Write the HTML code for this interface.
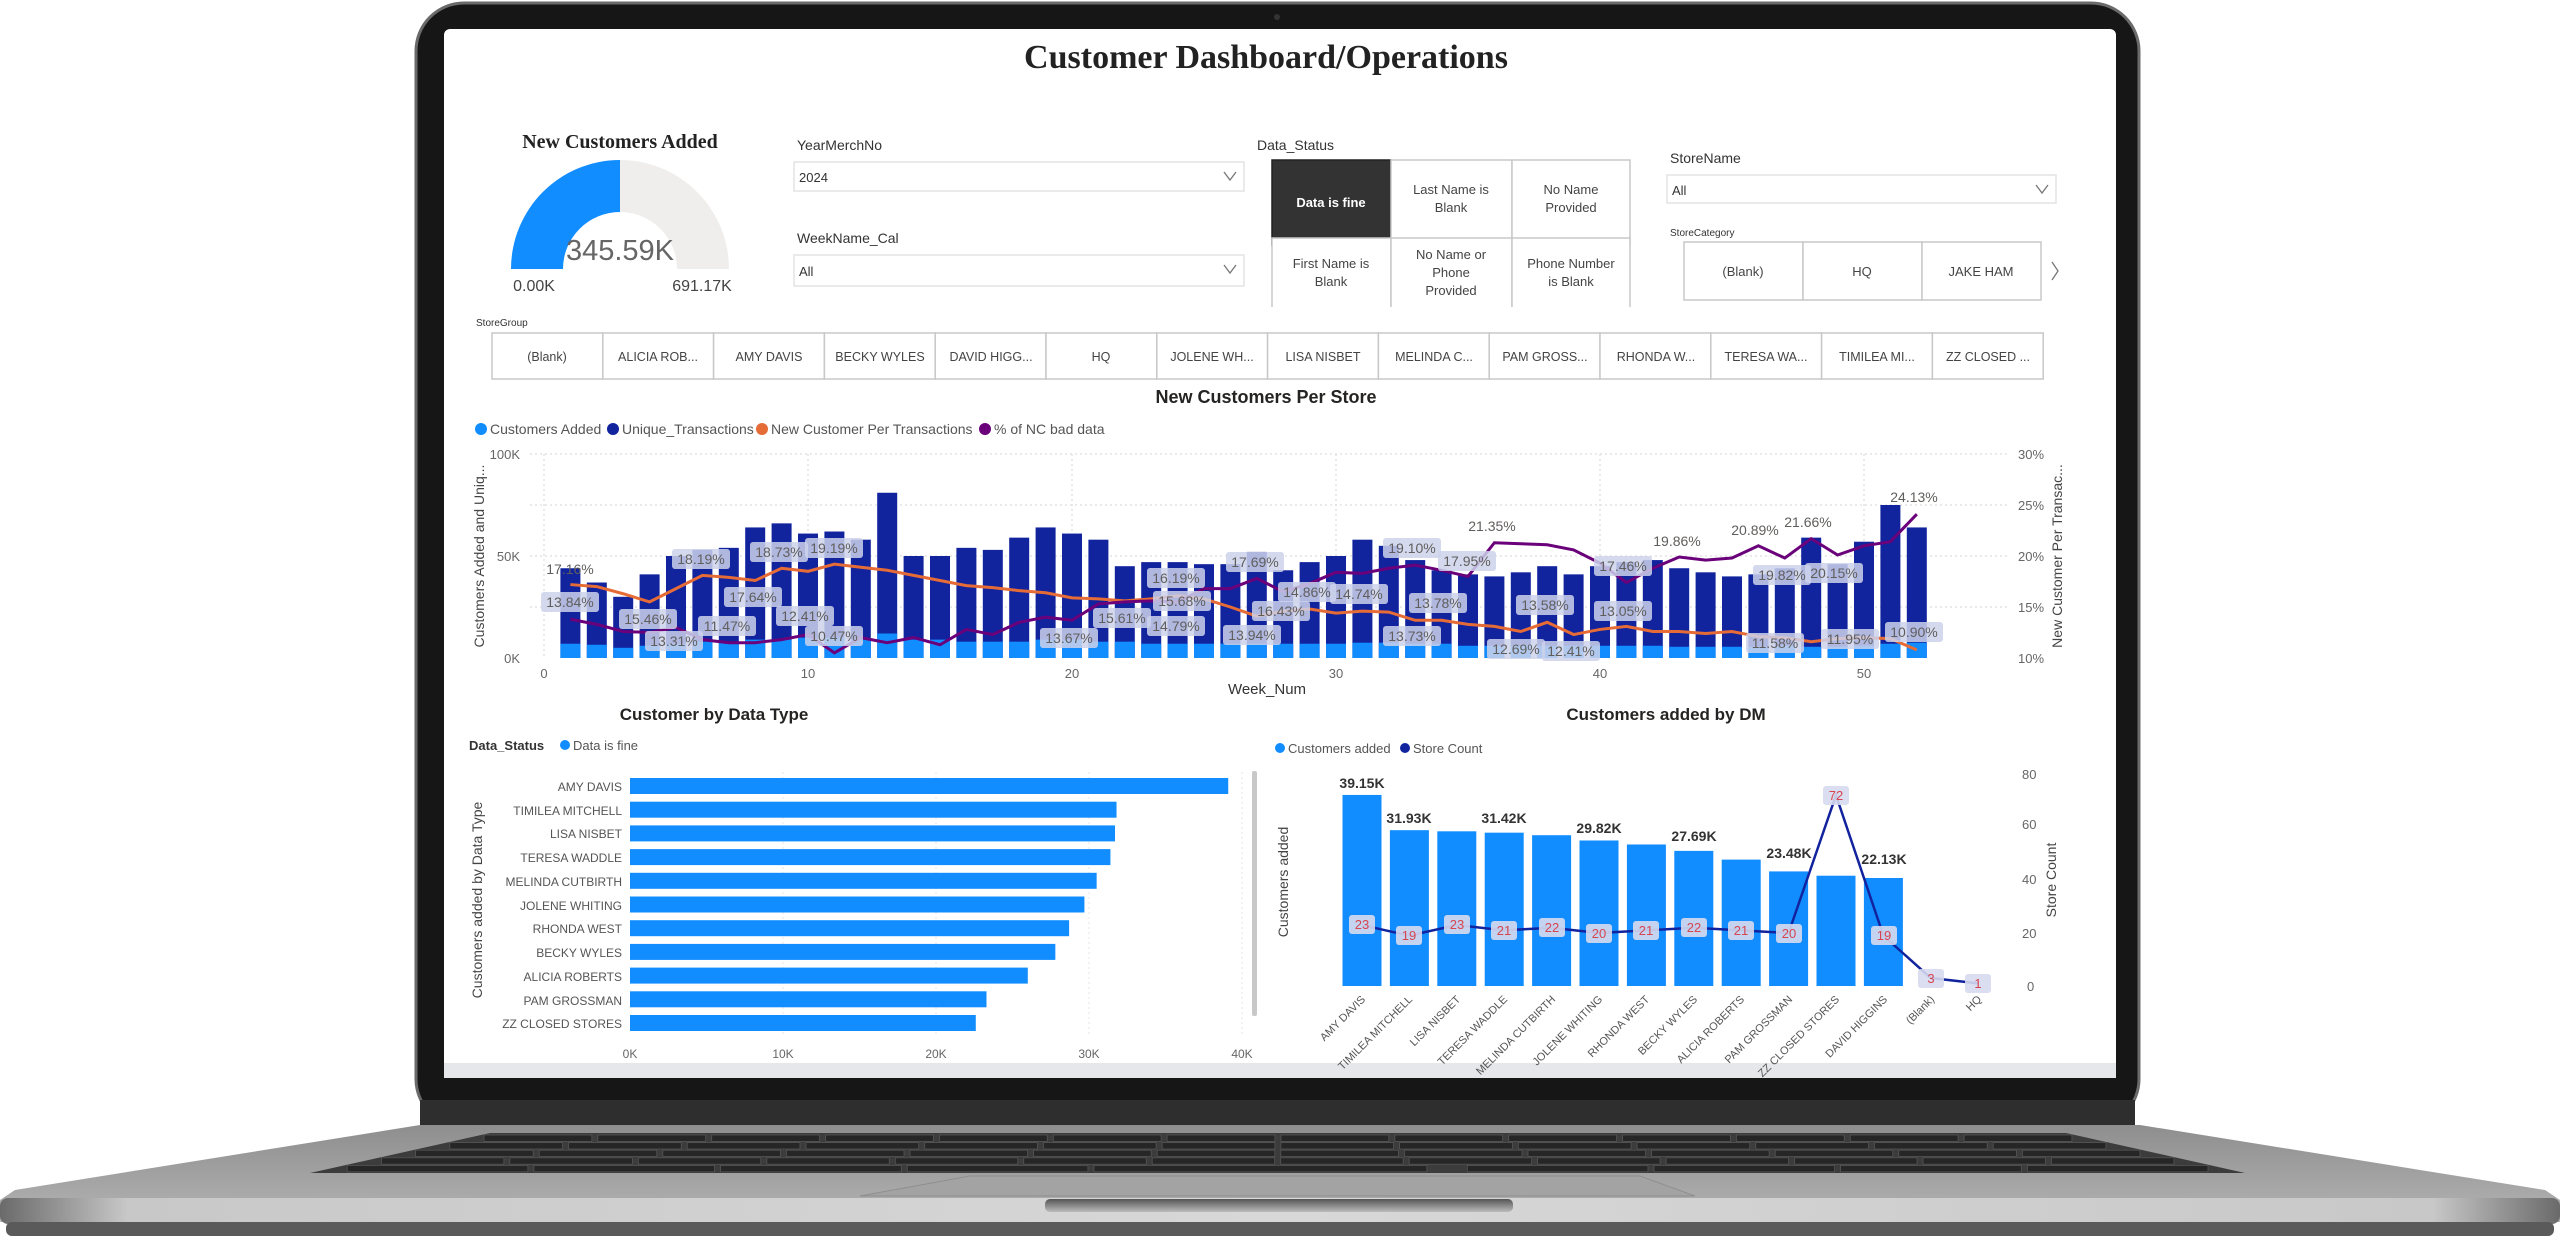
<!DOCTYPE html>
<html><head><meta charset="utf-8"><style>
html,body{margin:0;padding:0;background:#fff;width:2560px;height:1239px;overflow:hidden}
svg{display:block}
text{font-family:"Liberation Sans",sans-serif}
</style></head><body>
<svg id="s" width="2560" height="1239" viewBox="0 0 2560 1239" xmlns="http://www.w3.org/2000/svg">
<defs>
<linearGradient id="base" x1="0" y1="0" x2="0" y2="1"><stop offset="0" stop-color="#8e8e8e"/><stop offset="1" stop-color="#b4b4b4"/></linearGradient>
<linearGradient id="lip" x1="0" y1="0" x2="1" y2="0"><stop offset="0" stop-color="#6a6a6a"/><stop offset="0.05" stop-color="#c8c8c8"/><stop offset="0.5" stop-color="#d8d8d8"/><stop offset="0.95" stop-color="#c8c8c8"/><stop offset="1" stop-color="#6a6a6a"/></linearGradient>
<linearGradient id="notch" x1="0" y1="0" x2="0" y2="1"><stop offset="0" stop-color="#555"/><stop offset="1" stop-color="#bbb"/></linearGradient>
</defs>
<rect x="416" y="3" width="1723" height="1124" rx="48" fill="#161616" stroke="#6a6a6a" stroke-width="3"/>
<rect x="420" y="1100" width="1715" height="26" fill="#2e2e2e"/>
<rect x="444" y="29" width="1672" height="1049" rx="6" fill="#fff"/>
<rect x="444" y="1063" width="1672" height="15" fill="#e6e7ea"/>
<circle cx="1277" cy="17" r="3" fill="#333"/>
<polygon points="420,1125 2140,1125 2545,1190 2560,1200 2560,1222 0,1222 0,1200 15,1190" fill="url(#base)"/>
<rect x="0" y="1198" width="2560" height="26" rx="8" fill="url(#lip)"/>
<rect x="6" y="1222" width="2548" height="14" rx="6" fill="#5a5a5a"/>
<polygon points="490,1133 2066,1133 2245,1173 310,1173" fill="#3c3c3c"/>
<g id="keys" stroke="#6b6b6b" stroke-width="1.5"></g>
<polygon points="970,1176 1640,1176 1695,1196 860,1196" fill="#a3a3a3" stroke="#8e8e8e"/>
<rect x="1045" y="1199" width="468" height="13" rx="5" fill="url(#notch)"/>

<text x="1266" y="68" text-anchor="middle" font-weight="bold" font-size="34" fill="#222" style="font-family:'Liberation Serif',serif">Customer Dashboard/Operations</text>

<text x="620" y="148" text-anchor="middle" font-weight="bold" font-size="20" fill="#222" style="font-family:'Liberation Serif',serif">New Customers Added</text>
<path d="M620 160 A109 109 0 0 1 729 269 L677 269 A57 57 0 0 0 620 212 Z" fill="#efeeec"/>
<path d="M511 269 A109 109 0 0 1 620 160 L620 212 A57 57 0 0 0 563 269 Z" fill="#118dff"/>
<text x="620" y="260" text-anchor="middle" font-size="29" fill="#666">345.59K</text>
<text x="534" y="291" text-anchor="middle" font-size="16" fill="#444">0.00K</text>
<text x="702" y="291" text-anchor="middle" font-size="16" fill="#444">691.17K</text>

<g font-size="14" fill="#333">
<text x="797" y="150">YearMerchNo</text>
<text x="797" y="243">WeekName_Cal</text>
<text x="1257" y="150">Data_Status</text>
<text x="1670" y="163">StoreName</text>
<text x="1670" y="236" font-size="10">StoreCategory</text>
<text x="476" y="326" font-size="10">StoreGroup</text>
</g>
<g fill="#fff" stroke="#e3e3e3" stroke-width="1.5">
<rect x="794" y="162" width="450" height="29"/>
<rect x="794" y="255" width="450" height="31"/>
<rect x="1667" y="175" width="389" height="28"/>
</g>
<g font-size="13" fill="#333">
<text x="799" y="182">2024</text>
<text x="799" y="276">All</text>
<text x="1672" y="195">All</text>
</g>
<g stroke="#777" stroke-width="1.3" fill="none">
<polyline points="1224,172 1230,180 1236,172"/>
<polyline points="1224,265 1230,273 1236,265"/>
<polyline points="2036,185 2042,193 2048,185"/>
<polyline points="2052,262 2058,271 2052,280"/>
</g>
<g stroke="#c8c8c8" stroke-width="1.5" fill="#fff">
<rect x="1272" y="160" width="119" height="85" fill="#333" stroke="#222"/>
<rect x="1391" y="160" width="121" height="85"/>
<rect x="1512" y="160" width="118" height="85"/>
<rect x="1272" y="238" width="119" height="72"/>
<rect x="1391" y="238" width="121" height="72"/>
<rect x="1512" y="238" width="118" height="72"/>
</g>
<rect x="1268" y="307" width="366" height="6" fill="#fff"/>
<g font-size="13" fill="#444" text-anchor="middle">
<text x="1331" y="207" fill="#fff" font-weight="bold">Data is fine</text>
<text x="1451" y="194">Last Name is</text><text x="1451" y="212">Blank</text>
<text x="1571" y="194">No Name</text><text x="1571" y="212">Provided</text>
<text x="1331" y="268">First Name is</text><text x="1331" y="286">Blank</text>
<text x="1451" y="259">No Name or</text><text x="1451" y="277">Phone</text><text x="1451" y="295">Provided</text>
<text x="1571" y="268">Phone Number</text><text x="1571" y="286">is Blank</text>
</g>
<g stroke="#c8c8c8" stroke-width="1.5" fill="#fff">
<rect x="1684" y="242" width="119" height="58"/><rect x="1803" y="242" width="119" height="58"/><rect x="1922" y="242" width="119" height="58"/>
</g>
<g font-size="13" fill="#444" text-anchor="middle">
<text x="1743" y="276">(Blank)</text><text x="1862" y="276">HQ</text><text x="1981" y="276">JAKE HAM</text>
</g>
<g id="sg" stroke="#c8c8c8" stroke-width="1.5" fill="#fff"></g>
<g font-size="12.5" fill="#444" text-anchor="middle">
<text x="547" y="361">(Blank)</text><text x="658" y="361">ALICIA ROB...</text><text x="769" y="361">AMY DAVIS</text><text x="880" y="361">BECKY WYLES</text><text x="991" y="361">DAVID HIGG...</text><text x="1101" y="361">HQ</text><text x="1212" y="361">JOLENE WH...</text><text x="1323" y="361">LISA NISBET</text><text x="1434" y="361">MELINDA C...</text><text x="1545" y="361">PAM GROSS...</text><text x="1656" y="361">RHONDA W...</text><text x="1766" y="361">TERESA WA...</text><text x="1877" y="361">TIMILEA MI...</text><text x="1988" y="361">ZZ CLOSED ...</text>
</g>

<text x="1266" y="403" text-anchor="middle" font-weight="bold" font-size="18" fill="#252423">New Customers Per Store</text>
<g font-size="14" fill="#555">
<circle cx="481" cy="429" r="6" fill="#118dff"/><text x="490" y="434">Customers Added</text>
<circle cx="613" cy="429" r="6" fill="#12239e"/><text x="622" y="434">Unique_Transactions</text>
<circle cx="762" cy="429" r="6" fill="#e66c37"/><text x="771" y="434">New Customer Per Transactions</text>
<circle cx="985" cy="429" r="6" fill="#6b007b"/><text x="994" y="434">% of NC bad data</text>
</g>
<g stroke="#ddd" stroke-width="1.2" stroke-dasharray="2,3">
<line x1="530" y1="454" x2="2010" y2="454"/><line x1="530" y1="556" x2="2010" y2="556"/><line x1="530" y1="505" x2="2010" y2="505"/><line x1="530" y1="607" x2="2010" y2="607"/>
<line x1="544" y1="454" x2="544" y2="658"/><line x1="808" y1="454" x2="808" y2="658"/><line x1="1072" y1="454" x2="1072" y2="658"/><line x1="1336" y1="454" x2="1336" y2="658"/><line x1="1600" y1="454" x2="1600" y2="658"/><line x1="1864" y1="454" x2="1864" y2="658"/>
</g>
<g font-size="13" fill="#666">
<text x="520" y="459" text-anchor="end">100K</text><text x="520" y="561" text-anchor="end">50K</text><text x="520" y="663" text-anchor="end">0K</text>
<text x="2018" y="459">30%</text><text x="2018" y="510">25%</text><text x="2018" y="561">20%</text><text x="2018" y="612">15%</text><text x="2018" y="663">10%</text>
<g text-anchor="middle"><text x="544" y="678">0</text><text x="808" y="678">10</text><text x="1072" y="678">20</text><text x="1336" y="678">30</text><text x="1600" y="678">40</text><text x="1864" y="678">50</text></g>
</g>
<text x="1267" y="694" text-anchor="middle" font-size="15" fill="#333">Week_Num</text>
<text transform="translate(484,556) rotate(-90)" text-anchor="middle" font-size="14" fill="#444">Customers Added and Uniq...</text>
<text transform="translate(2062,556) rotate(-90)" text-anchor="middle" font-size="14" fill="#444">New Customer Per Transac...</text>
<g id="combo"></g>
<g id="lbl" font-size="14" fill="#605e5c" text-anchor="middle">
<text x="570" y="574">17.16%</text><text x="570" y="607">13.84%</text><text x="701" y="564">18.19%</text><text x="648" y="624">15.46%</text><text x="674" y="646">13.31%</text><text x="727" y="631">11.47%</text><text x="753" y="602">17.64%</text><text x="779" y="557">18.73%</text><text x="805" y="621">12.41%</text><text x="834" y="553">19.19%</text><text x="834" y="641">10.47%</text><text x="1069" y="643">13.67%</text><text x="1122" y="623">15.61%</text><text x="1176" y="583">16.19%</text><text x="1182" y="606">15.68%</text><text x="1176" y="631">14.79%</text><text x="1252" y="640">13.94%</text><text x="1255" y="567">17.69%</text><text x="1281" y="616">16.43%</text><text x="1307" y="597">14.86%</text><text x="1359" y="599">14.74%</text><text x="1412" y="553">19.10%</text><text x="1438" y="608">13.78%</text><text x="1412" y="641">13.73%</text><text x="1467" y="566">17.95%</text><text x="1492" y="531">21.35%</text><text x="1516" y="654">12.69%</text><text x="1545" y="610">13.58%</text><text x="1571" y="656">12.41%</text><text x="1623" y="571">17.46%</text><text x="1623" y="616">13.05%</text><text x="1677" y="546">19.86%</text><text x="1755" y="535">20.89%</text><text x="1808" y="527">21.66%</text><text x="1782" y="580">19.82%</text><text x="1834" y="578">20.15%</text><text x="1775" y="648">11.58%</text><text x="1850" y="644">11.95%</text><text x="1914" y="502">24.13%</text><text x="1914" y="637">10.90%</text>
</g>

<text x="714" y="720" text-anchor="middle" font-weight="bold" font-size="17" fill="#252423">Customer by Data Type</text>
<text x="469" y="750" font-size="13" fill="#333" font-weight="bold">Data_Status</text>
<circle cx="565" cy="745" r="5" fill="#118dff"/><text x="573" y="750" font-size="13" fill="#555">Data is fine</text>
<g stroke="#e4e4e4" stroke-dasharray="2,3"><line x1="783" y1="772" x2="783" y2="1035"/><line x1="936" y1="772" x2="936" y2="1035"/><line x1="1089" y1="772" x2="1089" y2="1035"/><line x1="1242" y1="772" x2="1242" y2="1035"/></g>
<g id="hb" fill="#118dff"></g>
<g font-size="12" fill="#555" text-anchor="end">
<text x="622" y="791">AMY DAVIS</text><text x="622" y="815">TIMILEA MITCHELL</text><text x="622" y="838">LISA NISBET</text><text x="622" y="862">TERESA WADDLE</text><text x="622" y="886">MELINDA CUTBIRTH</text><text x="622" y="910">JOLENE WHITING</text><text x="622" y="933">RHONDA WEST</text><text x="622" y="957">BECKY WYLES</text><text x="622" y="981">ALICIA ROBERTS</text><text x="622" y="1005">PAM GROSSMAN</text><text x="622" y="1028">ZZ CLOSED STORES</text>
</g>
<g font-size="12" fill="#666" text-anchor="middle"><text x="630" y="1058">0K</text><text x="783" y="1058">10K</text><text x="936" y="1058">20K</text><text x="1089" y="1058">30K</text><text x="1242" y="1058">40K</text></g>
<text transform="translate(482,900) rotate(-90)" text-anchor="middle" font-size="14" fill="#444">Customers added by Data Type</text>
<rect x="1252" y="771" width="5" height="245" rx="2" fill="#c8c8c8"/>

<text x="1666" y="720" text-anchor="middle" font-weight="bold" font-size="17" fill="#252423">Customers added by DM</text>
<circle cx="1280" cy="748" r="5" fill="#118dff"/><text x="1288" y="753" font-size="13" fill="#555">Customers added</text>
<circle cx="1405" cy="748" r="5" fill="#12239e"/><text x="1413" y="753" font-size="13" fill="#555">Store Count</text>
<g font-size="13" fill="#666"><text x="2022" y="779">80</text><text x="2022" y="829">60</text><text x="2022" y="884">40</text><text x="2022" y="938">20</text><text x="2027" y="991">0</text></g>
<text transform="translate(2056,880) rotate(-90)" text-anchor="middle" font-size="14" fill="#444">Store Count</text>
<text transform="translate(1288,882) rotate(-90)" text-anchor="middle" font-size="14" fill="#444">Customers added</text>
<g id="dm"></g>
<g font-size="14" font-weight="bold" fill="#333" text-anchor="middle">
<text x="1362" y="788">39.15K</text><text x="1409" y="823">31.93K</text><text x="1504" y="823">31.42K</text><text x="1599" y="833">29.82K</text><text x="1694" y="841">27.69K</text><text x="1789" y="858">23.48K</text><text x="1884" y="864">22.13K</text>
</g>
<g id="dmlbl" font-size="13" fill="#d64550" text-anchor="middle">
<text x="1362" y="929">23</text><text x="1409" y="940">19</text><text x="1457" y="929">23</text><text x="1504" y="935">21</text><text x="1552" y="932">22</text><text x="1599" y="938">20</text><text x="1646" y="935">21</text><text x="1694" y="932">22</text><text x="1741" y="935">21</text><text x="1789" y="938">20</text><text x="1836" y="800">72</text><text x="1884" y="940">19</text><text x="1931" y="983">3</text><text x="1978" y="988">1</text>
</g>
<g font-size="11" fill="#555" text-anchor="end">
<text transform="translate(1366,1000) rotate(-45)">AMY DAVIS</text><text transform="translate(1413,1000) rotate(-45)">TIMILEA MITCHELL</text><text transform="translate(1461,1000) rotate(-45)">LISA NISBET</text><text transform="translate(1508,1000) rotate(-45)">TERESA WADDLE</text><text transform="translate(1556,1000) rotate(-45)">MELINDA CUTBIRTH</text><text transform="translate(1603,1000) rotate(-45)">JOLENE WHITING</text><text transform="translate(1650,1000) rotate(-45)">RHONDA WEST</text><text transform="translate(1698,1000) rotate(-45)">BECKY WYLES</text><text transform="translate(1745,1000) rotate(-45)">ALICIA ROBERTS</text><text transform="translate(1793,1000) rotate(-45)">PAM GROSSMAN</text><text transform="translate(1840,1000) rotate(-45)">ZZ CLOSED STORES</text><text transform="translate(1888,1000) rotate(-45)">DAVID HIGGINS</text><text transform="translate(1935,1000) rotate(-45)">(Blank)</text><text transform="translate(1982,1000) rotate(-45)">HQ</text>
</g>
</svg>
<script>
var NS="http://www.w3.org/2000/svg";
function el(p,t,a){var e=document.createElementNS(NS,t);for(var k in a)e.setAttribute(k,a[k]);(typeof p=="string"?document.getElementById(p):p).appendChild(e);return e;}
var kb=document.getElementById("keys");
for(var r=0;r<5;r++){var y0=1135+r*7.6,t0=(y0-1133)/40;
 var L0=490-180*t0,R0=2066+179*t0;
 var n=r==4?10:14;
 for(var i=0;i<n;i++){var a=i/n,b=(i+1)/n;var xl=L0+(R0-L0)*a+3,xr=L0+(R0-L0)*b-3;
  if(r==4&&i==4){xr=L0+(R0-L0)*0.58;i=5;}
  el(kb,"rect",{x:xl,y:y0,width:xr-xl,height:6.4,fill:"#262626",stroke:"#555","stroke-width":0.8});}}
for(var i=0;i<14;i++)el("sg","rect",{x:492+i*110.8,y:333,width:110.8,height:46});
var U=[44,37,30,41,50,53,54,64,66,61,62,58,81,50,50,54,53,59,64,61,58,45,47,47,46,46,52,43,47,50,58,55,48,43,41,40,42,45,41,45,47,48,44,42,40,41,44,59,46,57,75,64];
var C=[7,6.5,5,6,7,8,8,9,9,10,10,9,12,9,9,8,8,8,9,9,8,8,7,7,7,7,7,7,7,7,7.5,7.5,7,7,6,6,6,6,6,6,6,6,5.5,5.5,5.5,5.5,6,5.5,5.5,6,7,7.5];
var O=[17.2,17,16.3,15.5,16.8,18.1,17.9,17.6,18.8,18.5,19.2,18.9,18.6,18.1,17.6,17.1,16.9,16.6,16.4,15.9,15.8,15.6,15.8,16.1,15.8,15,14.1,14.6,14.8,14.4,14.6,14.5,13.7,13.7,13.3,13.1,12.6,13.5,12.3,12.8,13.1,12.6,12.6,12.4,12.6,12.1,12,11.6,11.9,12,11.9,10.8];
var P=[13.8,13.3,12.6,12.5,13,11.8,11.5,11.5,11.8,12.3,10.5,12,11.5,12,11.3,12.8,12.3,13.5,14,13.7,15.3,15.5,15.6,15.5,16.8,16.8,17.8,16.5,17.3,18.4,18.3,18.8,19.1,18.6,18,21.3,21.2,21.1,20.6,19.3,17.4,18.8,19.9,19.6,19.8,21,19.8,21.7,20.1,21,21.4,24.1];
var g=document.getElementById("combo");
for(var w=1;w<=52;w++){var x=544+w*26.4-10;
 el(g,"rect",{x:x,y:658-U[w-1]*2.04,width:20,height:U[w-1]*2.04,fill:"#12239e"});
 el(g,"rect",{x:x,y:658-C[w-1]*2.04,width:20,height:C[w-1]*2.04,fill:"#118dff"});}
function pl(arr,col){var p=[];for(var w=1;w<=52;w++)p.push((544+w*26.4)+","+(658-(arr[w-1]-10)*10.2));el(g,"polyline",{points:p.join(" "),fill:"none",stroke:col,"stroke-width":3});}
pl(O,"#e66c37");pl(P,"#6b007b");
var lb=document.getElementById("lbl");var ts=lb.querySelectorAll("text");
var nobox={"17.16%":1,"21.35%":1,"19.86%":1,"20.89%":1,"21.66%":1,"24.13%":1};
ts.forEach(function(t){if(nobox[t.textContent])return;var x=+t.getAttribute("x"),y=+t.getAttribute("y");
 var r=document.createElementNS(NS,"rect");r.setAttribute("x",x-29);r.setAttribute("y",y-15);r.setAttribute("width",58);r.setAttribute("height",20);r.setAttribute("rx",3);r.setAttribute("fill","rgba(205,210,235,0.85)");lb.insertBefore(r,lb.firstChild);});
var H=[39.1,31.8,31.7,31.4,30.5,29.7,28.7,27.8,26,23.3,22.6];
for(var i=0;i<11;i++)el("hb","rect",{x:630,y:778+i*23.7,width:H[i]*15.3,height:16});
var V=[39.15,31.93,31.7,31.42,30.9,29.82,29.0,27.69,25.9,23.48,22.6,22.13,0,0];
var SC=[23,19,23,21,22,20,21,22,21,20,72,19,3,1];
var d=document.getElementById("dm");var pts=[];
for(var i=0;i<14;i++){var cx=1362+i*47.4;
 if(V[i]>0)el(d,"rect",{x:cx-19.5,y:986-V[i]*4.88,width:39,height:V[i]*4.88,fill:"#118dff"});
 pts.push(cx+","+(986-SC[i]*2.65));}
el(d,"polyline",{points:pts.join(" "),fill:"none",stroke:"#12239e","stroke-width":2.5});
var dl=document.getElementById("dmlbl");dl.querySelectorAll("text").forEach(function(t){var x=+t.getAttribute("x"),y=+t.getAttribute("y");
 var r=document.createElementNS(NS,"rect");r.setAttribute("x",x-13);r.setAttribute("y",y-14);r.setAttribute("width",26);r.setAttribute("height",19);r.setAttribute("rx",3);r.setAttribute("fill","rgba(215,218,238,0.9)");dl.insertBefore(r,dl.firstChild);});
</script>
</body></html>
